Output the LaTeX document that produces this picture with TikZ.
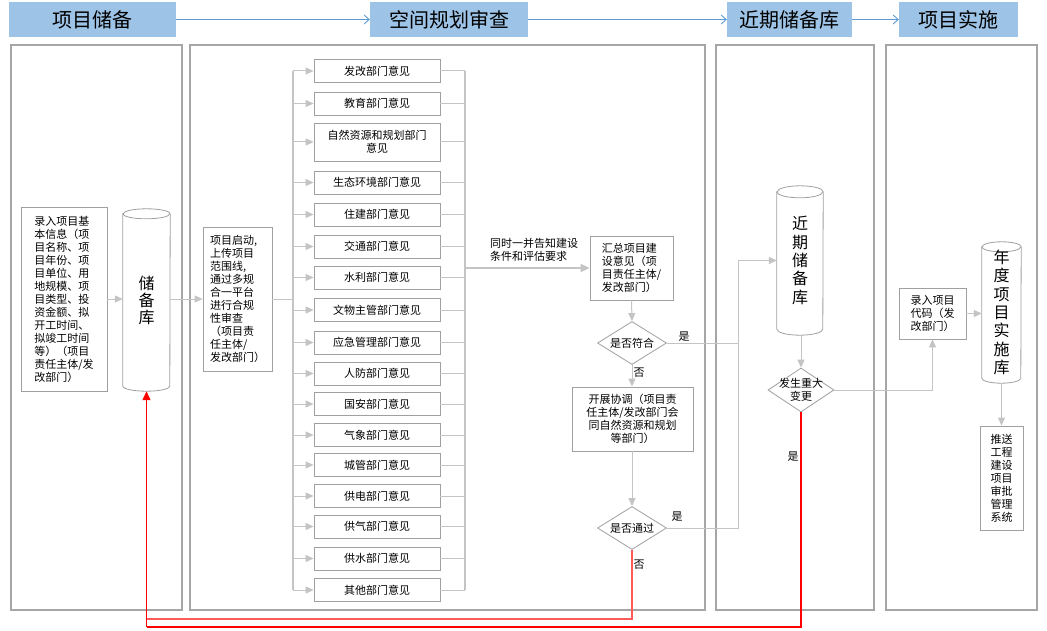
\documentclass[tikz,border=0pt]{standalone}
\usepackage{fontspec}
\setmainfont{Noto Sans CJK SC}
\usetikzlibrary{arrows.meta,shapes.geometric}
\definecolor{hdr}{HTML}{9DC3E6}
\definecolor{hdrline}{HTML}{5B9BD5}
\definecolor{lane}{HTML}{A6A6A6}
\definecolor{bline}{HTML}{A0A0A0}
\definecolor{cline}{HTML}{C4C4C4}
\definecolor{redA}{HTML}{FF0000}
\definecolor{redB}{HTML}{FF5A5A}
\newcommand\mycyl[3]{%
  \draw[draw=bline,line width=0.8pt,fill=white]
    ([yshift=-#3]#1.north west) -- ([yshift=#3]#1.south west)
    arc[start angle=180,end angle=360,x radius=#2,y radius=#3]
    -- ([yshift=-#3]#1.north east)
    arc[start angle=0,end angle=180,x radius=#2,y radius=#3] -- cycle;
  \draw[draw=bline,line width=0.8pt]
    ([yshift=-#3]#1.north west)
    arc[start angle=180,end angle=360,x radius=#2,y radius=#3];}
\begin{document}
\begin{tikzpicture}[x=1pt,y=-1pt,
 hdrbox/.style={fill=hdr, minimum height=35pt, inner sep=0pt, font=\fontsize{20}{24}\selectfont},
 hdrarrow/.style={draw=hdrline, line width=0.9pt, -{Straight Barb[length=5pt,width=9pt]}},
 lanebox/.style={draw=lane, line width=2.5pt},
 box/.style={draw=bline, line width=0.8pt, fill=white, inner sep=0pt, font=\fontsize{11}{13}\selectfont},
 dept/.style={box, minimum width=126pt, minimum height=23pt},
 diam/.style={draw=bline, line width=0.8pt, fill=white, diamond, inner sep=0pt},
 conn/.style={draw=cline, line width=1pt},
 arr/.style={conn, -{Triangle[length=8pt,width=7pt]}},
 redline/.style={draw=redA, line width=1.3pt},
 lbl/.style={font=\fontsize{11}{13}\selectfont, inner sep=0pt},
 cyltext/.style={font=\fontsize{16}{18.3}\selectfont, align=center, inner sep=0pt},
]
\fill[white] (0,0) rectangle (1047,631);
\useasboundingbox (0,0) rectangle (1047,631);

% headers
\node[hdrbox, minimum width=167pt] (h1) at (92.5,19.5) {项目储备};
\node[hdrbox, minimum width=158pt] (h2) at (449,19.5) {空间规划审查};
\node[hdrbox, minimum width=125pt] (h3) at (789.5,19.5) {近期储备库};
\node[hdrbox, minimum width=119pt] (h4) at (958.5,19.5) {项目实施};
\draw[hdrarrow] (h1.east) -- (h2.west);
\draw[hdrarrow] (h2.east) -- (h3.west);
\draw[hdrarrow] (h3.east) -- (h4.west);

% lanes
\draw[lanebox] (11,45) rectangle (182,610);
\draw[lanebox] (190,45) rectangle (705,610);
\draw[lanebox] (716,45) rectangle (874,610);
\draw[lanebox] (886,45) rectangle (1037,610);

% lane 1
\node[box, minimum width=86pt, minimum height=184pt, align=left] (lb) at (64,299)
 {录入项目基\\本信息（项\\目名称、项\\目年份、项\\目单位、用\\地规模、项\\目类型、投\\资金额、拟\\开工时间、\\拟竣工时间\\等）（项目\\责任主体/发\\改部门）};
\node[minimum width=47pt, minimum height=182pt, inner sep=0pt] (c1) at (146.5,300) {};
\mycyl{c1}{23.5pt}{5pt}
\node[cyltext, font=\fontsize{16}{17}\selectfont] at (c1) {储\\备\\库};
\draw[arr] (lb.east) -- (lb.east -| c1.west);

% lane 2
\node[box, minimum width=69pt, minimum height=144pt, align=left] (b2) at (237.5,299)
 {项目启动,\\上传项目\\范围线,\\通过多规\\合一平台\\进行合规\\性审查\\（项目责\\任主体/\\发改部门）};
\draw[arr] (c1.east |- b2.west) -- (b2.west);

\node[dept] (d1) at (377,71) {发改部门意见};
\node[dept] (d2) at (377,103.5) {教育部门意见};
\node[dept, minimum height=38pt, align=center] (d3) at (377,142) {自然资源和规划部门\\意见};
\node[dept] (d4) at (377,182.5) {生态环境部门意见};
\node[dept] (d5) at (377,214.5) {住建部门意见};
\node[dept] (d6) at (377,246.5) {交通部门意见};
\node[dept] (d7) at (377,277.5) {水利部门意见};
\node[dept] (d8) at (377,310) {文物主管部门意见};
\node[dept] (d9) at (377,342.5) {应急管理部门意见};
\node[dept] (d10) at (377,373.5) {人防部门意见};
\node[dept] (d11) at (377,404) {国安部门意见};
\node[dept] (d12) at (377,435) {气象部门意见};
\node[dept] (d13) at (377,465) {城管部门意见};
\node[dept] (d14) at (377,496) {供电部门意见};
\node[dept] (d15) at (377,526.5) {供气部门意见};
\node[dept] (d16) at (377,558.5) {供水部门意见};
\node[dept] (d17) at (377,590) {其他部门意见};

\coordinate (bl) at (293,0);
\coordinate (br) at (465,0);
\draw[conn] (b2.east) -- (b2.east -| bl);
\draw[conn, line width=1.4pt] (d1.west -| bl) -- (d17.west -| bl);
\draw[conn, line width=1.4pt] (d1.east -| br) -- (d17.east -| br);
\foreach \i in {1,...,17}{
  \draw[arr] (d\i.west -| bl) -- (d\i.west);
  \draw[conn] (d\i.east) -- (d\i.east -| br);
}

\node[box, minimum width=83pt, minimum height=64pt, align=left] (s1) at (631.5,268)
 {汇总项目建\\设意见（项\\目责任主体/\\发改部门）};
\draw[conn, line width=1.8pt, -{Triangle[length=9pt,width=8pt]}] (s1.west -| br) -- (s1.west);
\node[lbl, align=left] at (534,250) {同时一并告知建设\\条件和评估要求};

\node[diam, minimum width=69pt, minimum height=43pt] (dm1) at (632,343) {};
\node[lbl] at (dm1) {是否符合};
\draw[arr] (s1.south) -- (dm1.north);

\node[box, minimum width=121pt, minimum height=64pt, align=center] (k1) at (632.5,419)
 {开展协调（项目责\\任主体/发改部门会\\同自然资源和规划\\等部门）};
\draw[arr] (dm1.south) -- (dm1.south |- k1.north);
\node[lbl] at (639,373) {否};

\node[diam, minimum width=69pt, minimum height=43pt] (dm2) at (632,528) {};
\node[lbl] at (dm2) {是否通过};
\draw[arr] (dm2.north |- k1.south) -- (dm2.north);

% lane 3
\node[minimum width=46pt, minimum height=149pt, inner sep=0pt] (c2) at (800,260.5) {};
\mycyl{c2}{23pt}{6pt}
\node[cyltext] at (c2) {近\\期\\储\\备\\库};

\coordinate (jx) at (738,0);
\draw[arr] (dm1.east) -- (dm1.east -| jx) |- (c2.west);
\draw[conn] (dm2.east) -- (dm2.east -| jx) -- (dm1.east -| jx);
\node[lbl] at (684,337) {是};
\node[lbl] at (677,517) {是};

\node[diam, minimum width=66pt, minimum height=44pt] (dm3) at (801,390) {};
\node[lbl, align=center] at (dm3) {发生重大\\变更};
\draw[arr] (dm3.north |- c2.south) -- (dm3.north);

% lane 4
\node[box, minimum width=67pt, minimum height=51pt, align=left] (b3) at (932.5,313.5)
 {录入项目\\代码（发\\改部门）};
\node[minimum width=39pt, minimum height=141pt, inner sep=0pt] (c3) at (1001.5,312.5) {};
\mycyl{c3}{19.5pt}{5pt}
\node[cyltext] at (c3) {年\\度\\项\\目\\实\\施\\库};
\node[box, minimum width=43pt, minimum height=104pt, align=center] (b4) at (1001.5,478)
 {推送\\工程\\建设\\项目\\审批\\管理\\系统};
\draw[arr] (dm3.east) -| (b3.south);
\draw[arr] (b3.east) -- (b3.east -| c3.west);
\draw[arr] (c3.south) -- (b4.north);

% red return lines
\coordinate (r1) at (0,619);
\coordinate (r2) at (0,627);
\draw[draw=redB, line width=1.3pt] (dm2.south) -- (dm2.south |- r1) -- (c1.south |- r1);
\draw[redline] (dm3.south) -- (dm3.south |- r2) -- (c1.south |- r2);
\draw[redline, -{Triangle[length=9pt,width=8pt]}] (c1.south |- r2) -- (c1.south);
\node[lbl] at (639,565) {否};
\node[lbl] at (793,457) {是};
\end{tikzpicture}
\end{document}
